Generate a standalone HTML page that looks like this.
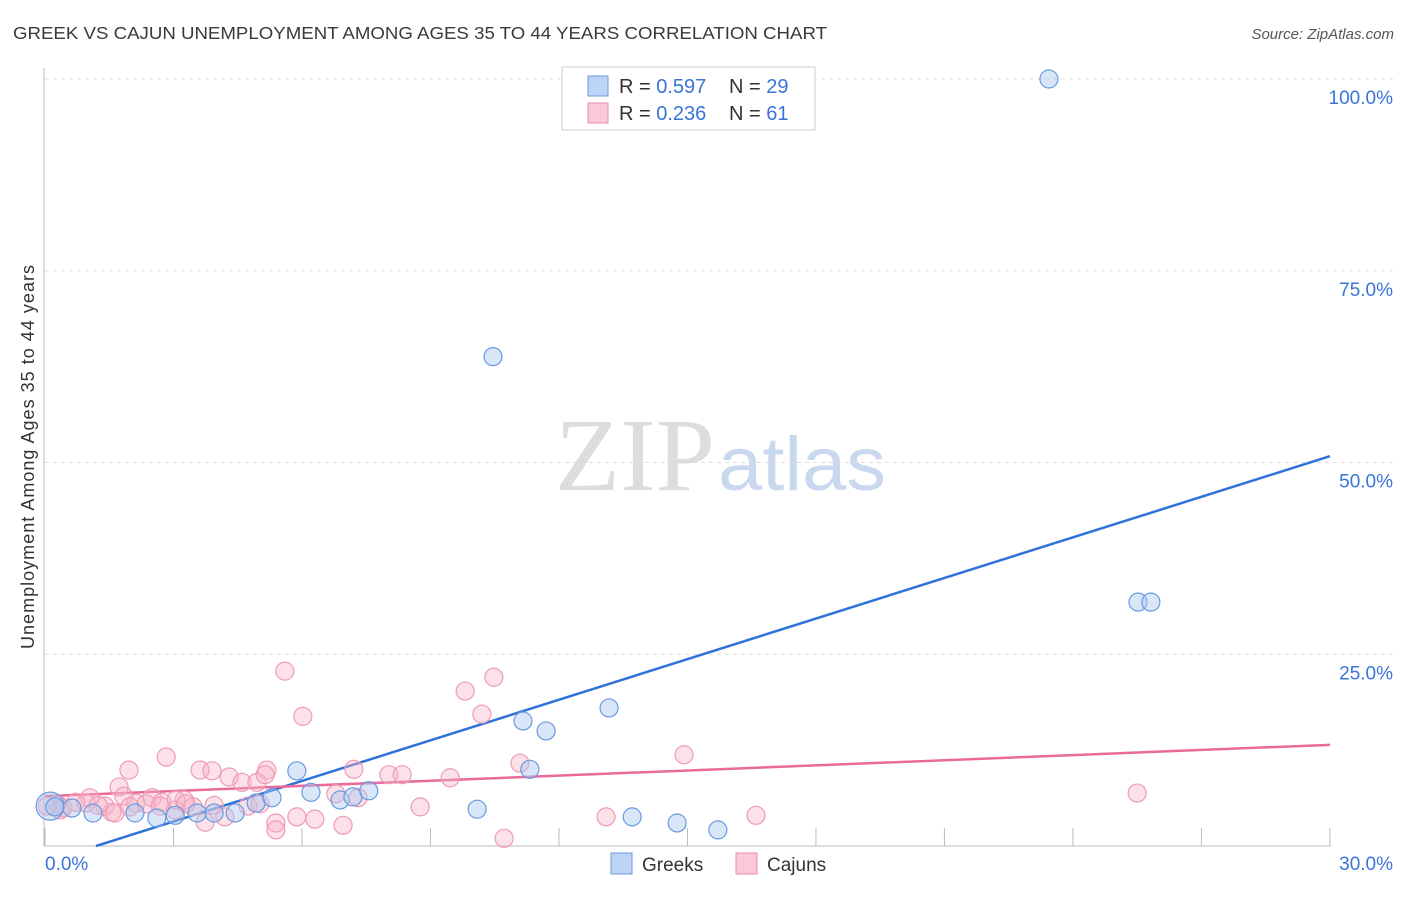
<!DOCTYPE html>
<html><head><meta charset="utf-8"><style>
body{margin:0;background:#fff;font-family:"Liberation Sans",sans-serif;}
svg text{font-family:"Liberation Sans",sans-serif;}
</style></head><body>
<svg id="chart" width="1406" height="892">
<text x="13" y="39" font-size="17.5" fill="#3a3a3a" textLength="814" lengthAdjust="spacingAndGlyphs">GREEK VS CAJUN UNEMPLOYMENT AMONG AGES 35 TO 44 YEARS CORRELATION CHART</text>
<text x="1394" y="39" font-size="15" fill="#555" font-style="italic" text-anchor="end">Source: ZipAtlas.com</text>
<text x="715" y="490" font-size="104" fill="#ddd" text-anchor="end" textLength="160" lengthAdjust="spacingAndGlyphs" style="font-family:'Liberation Serif',serif">ZIP</text>
<text x="718" y="490" font-size="76" fill="#c9d8ef" textLength="168" lengthAdjust="spacingAndGlyphs">atlas</text>
<text transform="translate(34,457) rotate(-90)" font-size="18" fill="#333" text-anchor="middle" textLength="384">Unemployment Among Ages 35 to 44 years</text>
<g id="grid"></g><g id="ticks"></g><g id="trend"></g><g id="pts"></g>
<g>
<rect x="562" y="67" width="253" height="63" fill="#fff" stroke="#ccc"/>
<rect x="588" y="76" width="20" height="20" fill="#bcd4f6" stroke="#6a9ae0"/>
<rect x="588" y="103" width="20" height="20" fill="#fbc8d8" stroke="#eb8aab"/>
<text x="619" y="93" font-size="20" fill="#333">R = <tspan fill="#3a74d8">0.597</tspan></text>
<text x="729" y="93" font-size="20" fill="#333">N = <tspan fill="#3a74d8">29</tspan></text>
<text x="619" y="120" font-size="20" fill="#333">R = <tspan fill="#3a74d8">0.236</tspan></text>
<text x="729" y="120" font-size="20" fill="#333">N = <tspan fill="#3a74d8"> 61</tspan></text>
</g>
<g>
<rect x="611" y="853" width="21" height="21" fill="#bcd4f6" stroke="#6a9ae0"/>
<text x="642" y="871" font-size="19" fill="#333">Greeks</text>
<rect x="736" y="853" width="21" height="21" fill="#fbc8d8" stroke="#eb8aab"/>
<text x="767" y="871" font-size="19" fill="#333">Cajuns</text>
</g>
</svg>
<script>
const yTicks=[25,50,75,100];
const yTickLabels=["25.0%","50.0%","75.0%","100.0%"];
const xTicks=[0,3,6,9,12,15,18,21,24,27,30];
const greekX=[0.12,0.23,0.63,1.12,2.1,2.61,3.04,3.55,3.95,4.44,4.93,5.3,5.88,6.21,6.89,7.19,7.56,10.09,10.46,11.16,11.32,11.7,13.17,13.71,14.76,15.71,23.44,25.52,25.82];
const greekY=[5.2,5.1,4.95,4.3,4.3,3.65,4.0,4.3,4.3,4.3,5.6,6.3,9.8,7.0,6.0,6.4,7.2,4.8,63.8,16.3,10.0,15.0,18.0,3.8,3.0,2.1,100,31.8,31.8];
const cajunX=[5.6,6.02,5.18,2.83,1.73,1.96,2.5,2.73,1.56,1.05,0.28,0.42,0.72,0.96,1.4,1.63,1.84,2.12,2.36,3.04,3.25,3.46,3.74,3.62,3.9,4.3,4.6,4.95,5.14,4.74,5.02,5.39,5.39,5.88,6.3,6.96,6.79,7.21,8.03,8.34,8.76,9.46,9.81,10.2,10.48,11.09,10.72,13.1,14.92,16.6,25.5,3.95,3.06,0.35,0.05,1.98,4.2,3.29,1.24,2.69,7.31];
const cajunY=[22.8,16.9,9.9,11.6,7.7,9.9,6.3,5.7,4.4,6.3,5.5,5.0,5.7,5.6,5.2,4.3,6.5,5.6,5.5,4.7,6.0,5.1,3.1,9.9,9.8,9.0,8.3,8.3,9.3,5.2,5.5,3.0,2.1,3.8,3.5,2.7,6.8,10.0,9.3,9.3,5.1,8.9,20.2,17.2,22.0,10.8,1.0,3.8,11.9,4.0,6.9,5.3,6.0,4.7,5.2,5.1,3.8,5.5,5.3,5.2,6.3];
const greekTrend=[-2.1,1.764];
const cajunTrend=[6.5,0.223];
const NS="http://www.w3.org/2000/svg";
const X=v=>45+v*42.83, Y=v=>846-v*7.67;
function mk(tag,attrs,parent){const e=document.createElementNS(NS,tag);for(const k in attrs)e.setAttribute(k,attrs[k]);document.getElementById(parent).appendChild(e);return e;}
yTicks.forEach((t,i)=>{
 const l=mk('line',{x1:45,x2:1393,y1:Y(t),y2:Y(t),stroke:'#ddd','stroke-dasharray':'4,4'},'grid');
 
 
 const tx=mk('text',{x:1393,y:Y(t)+25,'font-size':19,fill:'#3a74d8','text-anchor':'end'},'grid');
 tx.textContent=yTickLabels[i];
 
 
});
let a=mk('line',{x1:44,x2:44,y1:68,y2:846,stroke:'#bbb'},'ticks');


a=mk('line',{x1:44,x2:1331,y1:846,y2:846,stroke:'#bbb'},'ticks');


xTicks.forEach(t=>{const l=mk('line',{x1:X(t),x2:X(t),y1:828,y2:846,stroke:'#bbb'},'ticks');
 
 });
let t0=mk('text',{x:45,y:870,'font-size':19,fill:'#3a74d8'},'ticks');t0.textContent='0.0%';


t0=mk('text',{x:1393,y:870,'font-size':19,fill:'#3a74d8','text-anchor':'end'},'ticks');t0.textContent='30.0%';


cajunX.forEach((x,i)=>{const c=mk('circle',{cx:X(x),cy:Y(cajunY[i]),r:9,fill:'rgba(248,180,200,0.4)',stroke:'#ef9ab7','stroke-width':1.2},'pts');
 
 });
greekX.forEach((x,i)=>{const c=mk('circle',{cx:X(x),cy:Y(greekY[i]),r:i==0?14:9,fill:'rgba(170,200,240,0.45)',stroke:'#6a9ae0','stroke-width':1.2},'pts');
 
 });
const gx0=(0-greekTrend[0])/greekTrend[1];
let g=mk('line',{x1:X(gx0),y1:Y(0),x2:X(30),y2:Y(greekTrend[0]+30*greekTrend[1]),stroke:'#2f72d8','stroke-width':2.5},'trend');


g=mk('line',{x1:X(0),y1:Y(cajunTrend[0]),x2:X(30),y2:Y(cajunTrend[0]+30*cajunTrend[1]),stroke:'#e8699a','stroke-width':2.5},'trend');


</script>
</body></html>
